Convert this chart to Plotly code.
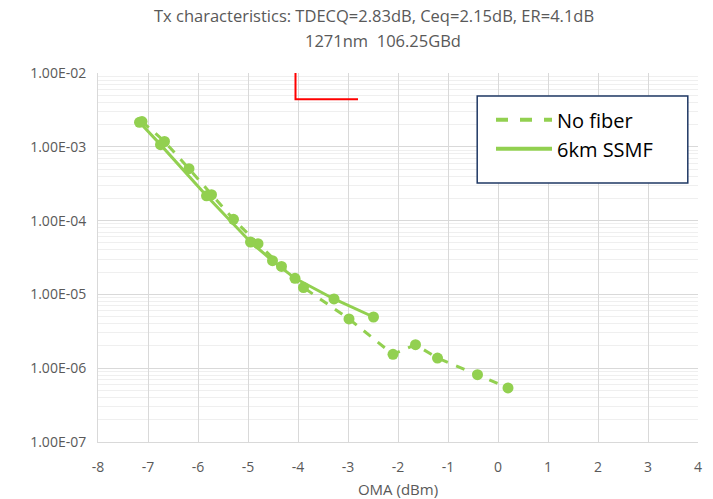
import plotly.graph_objects as go

# No fiber (dashed)
nofiber_oma = [-7.12, -6.67, -6.18, -5.73, -5.29, -4.80, -4.33, -3.89, -2.98, -2.10, -1.65, -1.21, -0.41, 0.20]
nofiber_ber = [2.2e-3, 1.18e-3, 5.05e-4, 2.24e-4, 1.04e-4, 4.86e-5, 2.39e-5, 1.24e-5, 4.65e-6, 1.54e-6, 2.08e-6, 1.37e-6, 8.17e-7, 5.4e-7]

# 6km SSMF (solid)
ssmf_oma = [-7.17, -6.75, -5.83, -4.95, -4.51, -4.06, -3.28, -2.49]
ssmf_ber = [2.15e-3, 1.07e-3, 2.17e-4, 5.13e-5, 2.86e-5, 1.65e-5, 8.67e-6, 4.94e-6]

# red threshold marker
red_x = [-4.05, -4.05, -2.8]
red_y = [1e-2, 4.4e-3, 4.4e-3]

ytick_vals = [1e-7, 1e-6, 1e-5, 1e-4, 1e-3, 1e-2]
ytick_text = ["1.00E-07", "1.00E-06", "1.00E-05", "1.00E-04", "1.00E-03", "1.00E-02"]
xtick_vals = [-8, -7, -6, -5, -4, -3, -2, -1, 0, 1, 2, 3, 4]
xtick_text = ["-8", "-7", "-6", "-5", "-4", "-3", "-2", "-1", "0", "1", "2", "3", "4"]

title_line1 = "Tx characteristics: TDECQ=2.83dB, Ceq=2.15dB, ER=4.1dB"
title_line2 = "1271nm  106.25GBd"

GREEN = "#92D050"
FONT = "Open Sans"
GREY = "#595959"

fig = go.Figure()
fig.add_trace(go.Scatter(x=red_x, y=red_y, mode="lines", line=dict(color="#FF0000", width=2),
                         showlegend=False, hoverinfo="skip"))
fig.add_trace(go.Scatter(x=nofiber_oma, y=nofiber_ber, mode="lines+markers", name="No fiber",
                         line=dict(color=GREEN, width=3, dash="dash"),
                         marker=dict(color=GREEN, size=11), showlegend=False))
fig.add_trace(go.Scatter(x=ssmf_oma, y=ssmf_ber, mode="lines+markers", name="6km SSMF",
                         line=dict(color=GREEN, width=3),
                         marker=dict(color=GREEN, size=11), showlegend=False))
# legend entries (line only, like the reference)
fig.add_trace(go.Scatter(x=[None], y=[None], mode="lines", name="No fiber",
                         line=dict(color=GREEN, width=4, dash="dash")))
fig.add_trace(go.Scatter(x=[None], y=[None], mode="lines", name="6km SSMF",
                         line=dict(color=GREEN, width=4)))

fig.update_layout(
    width=713, height=499,
    margin=dict(l=98, r=15, t=73, b=57),
    paper_bgcolor="white", plot_bgcolor="white",
    font=dict(family=FONT, color=GREY, size=14),
    legend=dict(x=0.655, y=0.926, xanchor="left", yanchor="top",
                bgcolor="rgba(0,0,0,0)", borderwidth=0,
                font=dict(size=20, color="black", family=FONT),
                itemwidth=56, tracegroupgap=0),
    shapes=[dict(type="rect", xref="paper", yref="paper",
                 x0=0.632, x1=0.983, y0=0.702, y1=0.938,
                 line=dict(color="#1F3864", width=1.5), fillcolor="white", layer="above")],
    annotations=[
        dict(text=title_line1, xref="paper", yref="paper", x=0.46, y=1.157,
             xanchor="center", yanchor="middle", showarrow=False,
             font=dict(size=16.5, color=GREY, family=FONT)),
        dict(text=title_line2, xref="paper", yref="paper", x=0.475, y=1.089,
             xanchor="center", yanchor="middle", showarrow=False,
             font=dict(size=16.5, color=GREY, family=FONT)),
    ],
)

fig.update_xaxes(range=[-8, 4], tickvals=xtick_vals, ticktext=xtick_text,
                 showgrid=True, gridcolor="#D9D9D9", gridwidth=1, automargin=False,
                 zeroline=False, showline=True, linecolor="#D9D9D9", ticks="",
                 tickfont=dict(size=14, color=GREY), ticklabelstandoff=12,
                 title=dict(text="OMA (dBm)", font=dict(size=15, color=GREY), standoff=14))
fig.update_yaxes(type="log", range=[-7, -2], tickvals=ytick_vals, ticktext=ytick_text,
                 showgrid=True, gridcolor="#D9D9D9", gridwidth=1, zeroline=False, automargin=False,
                 showline=True, linecolor="#D9D9D9", ticks="",
                 tickfont=dict(size=14, color=GREY), ticklabelstandoff=8,
                 minor=dict(dtick="D1", showgrid=True, gridcolor="#EFEFEF", ticks=""))

fig.write_html("out.html", config={"displayModeBar": False},
               post_script="document.body.style.margin='0';")
